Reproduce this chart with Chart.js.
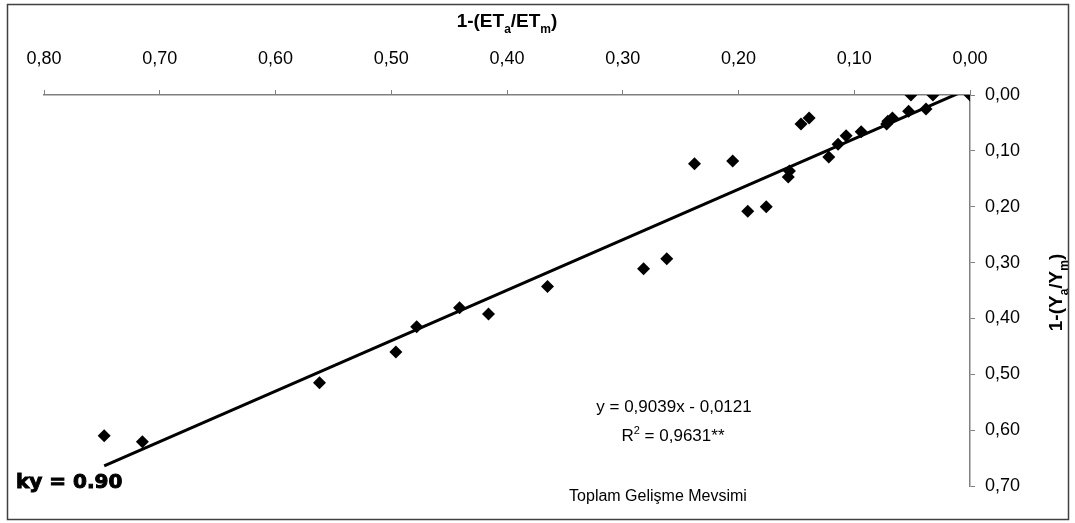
<!DOCTYPE html>
<html><head><meta charset="utf-8">
<script src="https://cdn.jsdelivr.net/npm/chart.js@4/dist/chart.umd.min.js"></script>
<style>html,body{margin:0;padding:0;background:#fff;}#wrap{width:1075px;height:523px;}</style>
</head><body><div id="wrap"><canvas id="c" width="1075" height="523"></canvas></div>
<script>
// 1-(ETa/ETm) values (x) and 1-(Ya/Ym) values (y)
const etDeficit = [0.000, 0.032, 0.051, 0.038, 0.053, 0.067, 0.071, 0.072, 0.094, 0.107, 0.114, 0.122, 0.139, 0.146, 0.156, 0.157, 0.205, 0.238, 0.176, 0.192, 0.262, 0.282, 0.365, 0.416, 0.441, 0.478, 0.496, 0.562, 0.715, 0.748];
const yieldDeficit = [0.000, 0.000, 0.000, 0.025, 0.029, 0.041, 0.047, 0.052, 0.066, 0.073, 0.088, 0.111, 0.041, 0.052, 0.136, 0.147, 0.118, 0.123, 0.200, 0.208, 0.293, 0.311, 0.343, 0.392, 0.381, 0.415, 0.460, 0.515, 0.621, 0.610];
// regression line end points
const trendX = [0.748, 0.000];
const trendY = [0.664, -0.012];
const xTickValues = [0.8, 0.7, 0.6, 0.5, 0.4, 0.3, 0.2, 0.1, 0.0];
const yTickValues = [0.0, 0.1, 0.2, 0.3, 0.4, 0.5, 0.6, 0.7];
const equationText = 'y = 0,9039x - 0,0121';
const r2Text = ['R', '2', ' = 0,9631**'];
const seasonText = 'Toplam Gelişme Mevsimi';
const kyText = 'ky = 0.90';

const FONT = '"Liberation Sans", Arial, sans-serif';
const fmt = v => v.toFixed(2).replace('.', ',');

function drawRich(ctx, parts, x, y, size, bold) {
  const w = bold ? 'bold ' : '';
  let total = 0;
  parts.forEach(p => {
    ctx.font = w + (p.sub || p.sup ? Math.round(size * 0.65) : size) + 'px ' + FONT;
    p.w = ctx.measureText(p.t).width;
    total += p.w;
  });
  let cx = x - total / 2;
  ctx.textAlign = 'left';
  ctx.textBaseline = 'alphabetic';
  parts.forEach(p => {
    ctx.font = w + (p.sub || p.sup ? Math.round(size * 0.65) : size) + 'px ' + FONT;
    const dy = p.sub ? size * 0.3 : (p.sup ? -size * 0.4 : 0);
    ctx.fillText(p.t, cx, y + dy);
    cx += p.w;
  });
}

const extras = {
  id: 'extras',
  afterDraw(chart) {
    const ctx = chart.ctx;
    const a = chart.chartArea;
    ctx.save();
    ctx.fillStyle = '#000';
    // x axis title
    drawRich(ctx, [{t: '1-(ET'}, {t: 'a', sub: true}, {t: '/ET'}, {t: 'm', sub: true}, {t: ')'}], (a.left + a.right) / 2, 27, 19, true);
    // y axis title (rotated)
    ctx.save();
    ctx.translate(1062, (a.top + a.bottom) / 2 + 2);
    ctx.rotate(-Math.PI / 2);
    drawRich(ctx, [{t: '1-(Y'}, {t: 'a', sub: true}, {t: '/Y'}, {t: 'm', sub: true}, {t: ')'}], 0, 0, 19, true);
    ctx.restore();
    // equation
    ctx.font = '17px ' + FONT;
    ctx.textAlign = 'center';
    ctx.textBaseline = 'alphabetic';
    ctx.fillText(equationText, 674, 412);
    drawRich(ctx, [{t: r2Text[0]}, {t: r2Text[1], sup: true}, {t: r2Text[2]}], 673, 441, 17, false);
    ctx.font = '16px ' + FONT;
    ctx.textAlign = 'center';
    ctx.fillText(seasonText, 658, 501);
    // ky label
    ctx.font = 'bold 20px "DejaVu Sans", sans-serif';
    ctx.textAlign = 'left';
    ctx.lineWidth = 1;
    ctx.strokeStyle = '#000';
    ctx.strokeText(kyText, 16, 488);
    ctx.fillText(kyText, 16, 488);
    // outer frame
    ctx.strokeStyle = '#404040';
    ctx.lineWidth = 1.5;
    ctx.strokeRect(7.5, 4.5, 1061, 515);
    ctx.restore();
  }
};

new Chart(document.getElementById('c'), {
  type: 'scatter',
  data: {
    datasets: [
      {
        data: etDeficit.map((x, i) => ({x, y: yieldDeficit[i]})),
        pointStyle: 'rectRot',
        pointRadius: 6.5,
        pointHoverRadius: 6.5,
        backgroundColor: '#000',
        borderColor: '#000',
        borderWidth: 0,
        showLine: false,
        order: 1
      },
      {
        data: trendX.map((x, i) => ({x, y: trendY[i]})),
        showLine: true,
        borderColor: '#000',
        borderWidth: 3,
        pointRadius: 0,
        fill: false,
        clip: 0,
        order: 2
      }
    ]
  },
  options: {
    responsive: false,
    animation: false,
    devicePixelRatio: 1,
    layout: {padding: {left: 44, right: 0, top: 0, bottom: 37}},
    plugins: {legend: {display: false}, tooltip: {enabled: false}},
    scales: {
      x: {
        type: 'linear', position: 'top', reverse: true, min: 0, max: 0.8,
        afterBuildTicks: s => { s.ticks = xTickValues.map(v => ({value: v})); },
        afterFit: s => { s.height = 95; },
        ticks: {callback: v => fmt(v), color: '#000', font: {family: FONT, size: 18}, padding: 20, maxRotation: 0, autoSkip: false},
        grid: {drawOnChartArea: false, drawTicks: true, tickLength: 5, color: '#808080', lineWidth: 1},
        border: {color: '#808080', width: 1.5}
      },
      y: {
        type: 'linear', position: 'right', reverse: true, min: 0, max: 0.7,
        afterBuildTicks: s => { s.ticks = yTickValues.map(v => ({value: v})); },
        afterFit: s => { s.width = 105; },
        ticks: {callback: v => fmt(v), color: '#000', font: {family: FONT, size: 18}, padding: 10, autoSkip: false},
        grid: {drawOnChartArea: false, drawTicks: true, tickLength: 5, color: '#808080', lineWidth: 1},
        border: {color: '#808080', width: 1.5}
      }
    }
  },
  plugins: [extras]
});
</script></body></html>
